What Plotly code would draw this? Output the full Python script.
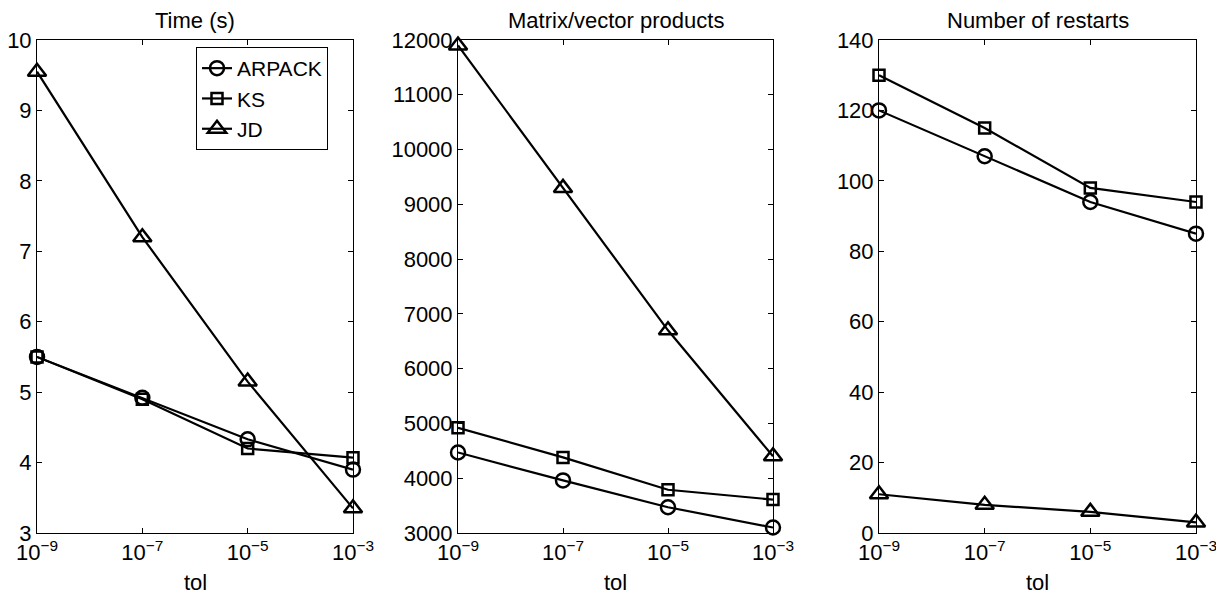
import plotly.graph_objects as go

# --- data ---
tol = [1e-9, 1e-7, 1e-5, 1e-3]
tol_labels = ["10<sup>−9</sup>", "10<sup>−7</sup>", "10<sup>−5</sup>", "10<sup>−3</sup>"]

time_arpack = [5.50, 4.92, 4.33, 3.90]
time_ks = [5.50, 4.90, 4.20, 4.07]
time_jd = [9.55, 7.20, 5.15, 3.35]

mv_arpack = [4470, 3960, 3470, 3100]
mv_ks = [4920, 4380, 3790, 3610]
mv_jd = [11900, 9300, 6700, 4400]

rs_arpack = [120, 107, 94, 85]
rs_ks = [130, 115, 98, 94]
rs_jd = [11, 8, 6, 3]

titles = ["Time (s)", "Matrix/vector products", "Number of restarts"]
y_ranges = [[3, 10], [3000, 12000], [0, 140]]
y_dticks = [1, 1000, 20]

FONT = "Liberation Sans, Arial, Helvetica, sans-serif"
FS = 22
W, H = 1224, 594
OFF = 8  # the plot div sits 8px in from the page corner

# plot boxes in page pixels (left, right), shared top/bottom
boxes = [(37, 353), (458, 773), (879, 1196)]
top, bottom = 40, 533


def px(v):
    return (v - OFF) / W


def py(v):
    return 1 - (v - OFF) / H


series = [
    ("ARPACK", "circle-open", 14, [time_arpack, mv_arpack, rs_arpack]),
    ("KS", "square-open", 11, [time_ks, mv_ks, rs_ks]),
    ("JD", "triangle-up-open", 16, [time_jd, mv_jd, rs_jd]),
]

fig = go.Figure()

for i in range(3):
    xa = "x" if i == 0 else f"x{i + 1}"
    ya = "y" if i == 0 else f"y{i + 1}"
    for name, sym, size, vals in series:
        fig.add_trace(go.Scatter(
            x=tol, y=vals[i], name=name, mode="lines+markers",
            xaxis=xa, yaxis=ya, showlegend=(i == 0), cliponaxis=False,
            line=dict(color="black", width=2.2),
            marker=dict(symbol=sym, size=size, color="black",
                        line=dict(color="black", width=2.5)),
        ))

layout = dict(
    width=W, height=H,
    margin=dict(l=0, r=0, t=0, b=0, autoexpand=False),
    plot_bgcolor="white", paper_bgcolor="white",
    font=dict(family=FONT, size=FS, color="black"),
    legend=dict(x=px(196), y=py(47), xanchor="left", yanchor="top",
                bgcolor="white", bordercolor="black", borderwidth=1,
                font=dict(size=21), tracegroupgap=0, itemwidth=30),
    annotations=[],
)

for i in range(3):
    l, r = boxes[i]
    sx = "" if i == 0 else str(i + 1)
    layout[f"xaxis{sx}"] = dict(
        type="log", range=[-9.0001, -2.9999], domain=[px(l), px(r)],
        anchor=f"y{sx}", tickvals=tol, ticktext=tol_labels,
        ticks="inside", ticklen=5, tickcolor="black", automargin=False,
        showline=True, linecolor="black", linewidth=1, mirror="ticks",
        showgrid=False, zeroline=False, tickfont=dict(size=FS),
    )
    layout[f"yaxis{sx}"] = dict(
        range=y_ranges[i], dtick=y_dticks[i], tickformat="d",
        domain=[py(bottom), py(top)], automargin=False,
        anchor=f"x{sx}", ticks="inside", ticklen=5, tickcolor="black",
        showline=True, linecolor="black", linewidth=1, mirror="ticks",
        showgrid=False, zeroline=False, tickfont=dict(size=FS),
    )
    cx = px((l + r) / 2)
    layout["annotations"].append(dict(
        text=titles[i], x=cx, y=py(20), xref="paper", yref="paper",
        showarrow=False, font=dict(size=FS), xanchor="center", yanchor="middle"))
    layout["annotations"].append(dict(
        text="tol", x=cx, y=py(582), xref="paper", yref="paper",
        showarrow=False, font=dict(size=FS), xanchor="center", yanchor="middle"))

fig.update_layout(**layout)
fig.write_html("out.html")
